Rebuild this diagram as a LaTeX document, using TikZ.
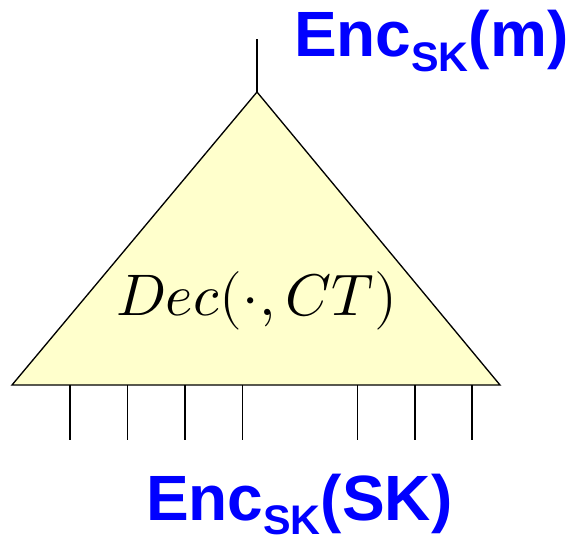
\documentclass[tikz,border=0pt]{standalone}
\usepackage{fontspec}
\usepackage{unicode-math}
\setmainfont{Liberation Sans}
\setmathfont{Latin Modern Math}
\usepackage{tikz}
\usetikzlibrary{positioning,calc}
\definecolor{encblue}{RGB}{0,0,255}
\definecolor{softyellow}{RGB}{255,255,204}
\newcommand{\enclabel}[4]{{\fontsize{#1}{#1}\selectfont\bfseries Enc\raisebox{-#3}{\fontsize{#2}{#2}\selectfont SK}(#4)}}

\begin{document}
\begin{tikzpicture}[x=0.75pt,y=-0.75pt,line width=1pt,every node/.style={inner sep=0pt,outer sep=0pt}]
    \useasboundingbox (0,0) rectangle (568,542);
    \coordinate (apex) at (257,92);
    \coordinate (left) at (12,385);
    \coordinate (right) at (500,385);
    \coordinate (out) at (257,39);
    \draw[fill=softyellow] (apex)--(left)--(right)--cycle;
    \draw (apex)--(out);
    \foreach \x [count=\i] in {70,127.5,185,242.5,357.5,415,472}{
      \coordinate (in\i) at (\x,385);
      \coordinate (end\i) at (\x,440);
      \draw (in\i)--(end\i);
    }
    \node[anchor=base] (dec) at (257,315) {\fontsize{44}{50}\selectfont$Dec(\cdot,CT)$};
    \node[anchor=base west,text=encblue] (result) at (294,57) {\enclabel{48}{31}{11pt}{m}};
    \node[anchor=base west,text=encblue] (key) at (146,520) {\enclabel{48}{31}{11pt}{SK}};
  \end{tikzpicture}
\end{document}
